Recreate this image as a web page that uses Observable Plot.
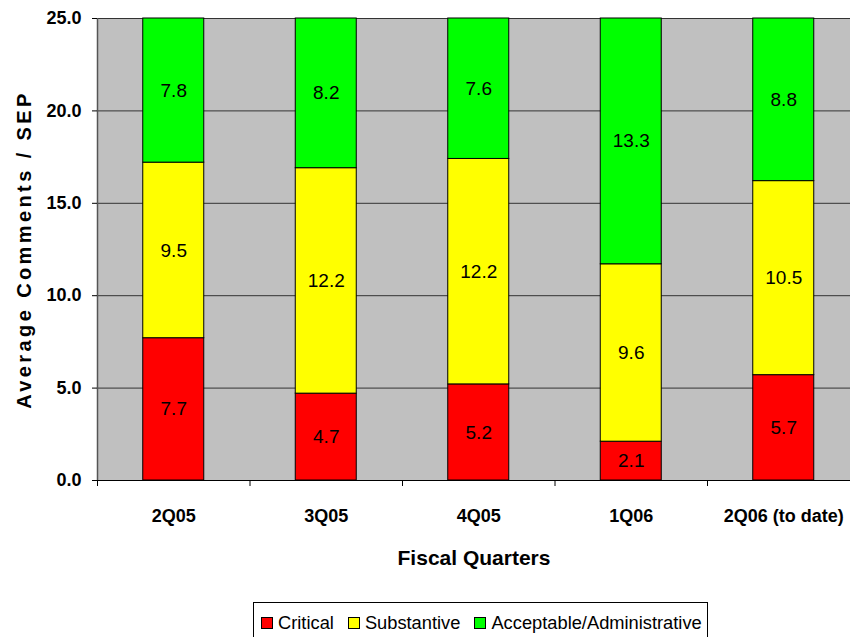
<!DOCTYPE html>
<html><head><meta charset="utf-8">
<script src="https://cdn.jsdelivr.net/npm/d3@7"></script>
<script src="https://cdn.jsdelivr.net/npm/@observablehq/plot@0.6"></script>
<style>
body{margin:0;background:#fff;overflow:hidden}
#wrap{position:relative;width:850px;height:637px;overflow:hidden}
g[aria-label="y-axis label"] text{font:bold 20px "Liberation Sans",Arial,sans-serif;letter-spacing:3.4px}
g[aria-label="x-axis label"] text{font:bold 21px "Liberation Sans",Arial,sans-serif}
g[aria-label="y-axis tick label"] text{font:bold 18px "Liberation Sans",Arial,sans-serif}
g[aria-label="x-axis tick label"] text{font:bold 18px "Liberation Sans",Arial,sans-serif}
g[aria-label="text"] text{font:19px "Liberation Sans",Arial,sans-serif}
#legend{position:absolute;left:253px;top:602px;width:455px;height:50px;border:1px solid #000;background:#fff;
  font:18.3px "Liberation Sans",Arial,sans-serif;display:flex;align-items:flex-start;padding-left:7px;box-sizing:border-box}
#legend .item{display:flex;align-items:center;margin-right:14px;height:40px}
#legend .sw{width:10px;height:10px;border:1px solid #000;margin-right:5px}
</style></head><body><div id="wrap"></div>
<script>
const quarters = ["2Q05","3Q05","4Q05","1Q06","2Q06 (to date)"];
const seriesNames = ["Critical","Substantive","Acceptable/Administrative"];
const seriesColors = ["#ff0000","#ffff00","#00ff00"];
const critical = [7.7,4.7,5.2,2.1,5.7];
const substantive = [9.5,12.2,12.2,9.6,10.5];
const acceptable = [7.8,8.2,7.6,13.3,8.8];
const yTicks = [0,5,10,15,20,25];

const seriesValues = [critical, substantive, acceptable];
const data = [];
quarters.forEach((q, i) => {
  seriesValues.forEach((arr, s) => data.push({q, i, series: seriesNames[s], value: arr[i]}));
});
const boundaries = d3.range(quarters.length + 1);
const centers = quarters.map((q, i) => i + 0.5);

const chart = Plot.plot({
  width: 850,
  height: 600,
  marginTop: 18,
  marginBottom: 120,
  marginLeft: 97,
  marginRight: 0,
  style: {fontFamily: "Liberation Sans, Arial, sans-serif", color: "#000", background: "transparent", overflow: "visible"},
  x: {domain: [0, quarters.length], range: [97, 859.5]},
  y: {domain: [0, 25], range: [480, 18], clamp: true},
  color: {domain: seriesNames, range: seriesColors},
  marks: [
    Plot.frame({fill: "#c0c0c0", stroke: "none"}),
    Plot.gridY(yTicks, {stroke: "#333", strokeOpacity: 1, strokeWidth: 1}),
    Plot.rectY(data, Plot.stackY({x1: d => d.i + 0.3, x2: d => d.i + 0.7, y: "value", fill: "series", stroke: "#000", strokeWidth: 1})),
    Plot.text(data, Plot.stackY({x: d => d.i + 0.5, y: "value", text: d => d.value.toFixed(1), fill: "#000"})),
    Plot.ruleX([0], {stroke: "#555", strokeWidth: 1.5}),
    Plot.ruleY([0], {stroke: "#000", strokeWidth: 1}),
    Plot.axisY(yTicks, {tickSize: 5, tickPadding: 11, tickFormat: d => d.toFixed(1),
      label: "Average Comments / SEP", labelAnchor: "center", labelArrow: "none", labelOffset: 81}),
    Plot.axisX(boundaries, {tickSize: 6, tickFormat: () => "", label: "Fiscal Quarters", labelAnchor: "center", labelArrow: "none", labelOffset: 84}),
    Plot.axisX(centers, {tickSize: 0, tickPadding: 29, tickFormat: d => quarters[Math.floor(d)], label: null})
  ]
});
const wrap = document.getElementById("wrap");
wrap.appendChild(chart);
const legend = document.createElement("div");
legend.id = "legend";
seriesNames.forEach((n, s) => {
  const it = document.createElement("div"); it.className = "item";
  const sw = document.createElement("div"); sw.className = "sw"; sw.style.background = seriesColors[s];
  const tx = document.createElement("span"); tx.textContent = n;
  it.appendChild(sw); it.appendChild(tx); legend.appendChild(it);
});
wrap.appendChild(legend);
</script></body></html>
